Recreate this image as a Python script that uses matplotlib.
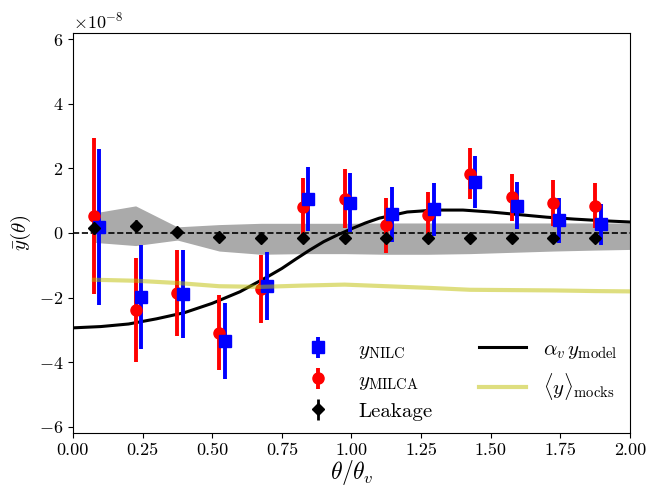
import numpy as np
import matplotlib
matplotlib.use("Agg")
import matplotlib.pyplot as plt

plt.rcParams['font.family'] = 'serif'
plt.rcParams['font.serif'] = ['cmr10']
plt.rcParams['mathtext.fontset'] = 'cm'
plt.rcParams['axes.formatter.use_mathtext'] = True
plt.rcParams['font.size'] = 13

# bin centres (theta / theta_v)
theta = [0.075, 0.225, 0.375, 0.525, 0.675, 0.825, 0.975, 1.125, 1.275, 1.425, 1.575, 1.725, 1.875]
nilc_offset = 0.02

# profiles in units of 1e-8
y_milca = [0.52, -2.39, -1.86, -3.09, -1.74, 0.81, 1.06, 0.24, 0.56, 1.84, 1.11, 0.93, 0.84]
err_milca = [2.42, 1.60, 1.32, 1.16, 1.05, 0.89, 0.91, 0.85, 0.70, 0.80, 0.73, 0.72, 0.70]
y_nilc = [0.19, -1.98, -1.88, -3.36, -1.64, 1.06, 0.94, 0.58, 0.74, 1.58, 0.84, 0.39, 0.27]
err_nilc = [2.42, 1.60, 1.36, 1.18, 1.06, 0.99, 0.92, 0.85, 0.82, 0.81, 0.73, 0.70, 0.63]
y_leak = [0.16, 0.23, 0.04, -0.13, -0.17, -0.16, -0.16, -0.16, -0.16, -0.16, -0.16, -0.16, -0.16]
err_leak = [0.18, 0.18, 0.16, 0.14, 0.14, 0.14, 0.14, 0.14, 0.14, 0.14, 0.14, 0.14, 0.14]

# leakage scatter band
band_x = [0.075, 0.225, 0.375, 0.525, 0.675, 0.825, 0.975, 1.125, 1.275, 1.425, 1.575, 1.725, 1.875, 2.0]
band_lo = [-0.29, -0.39, -0.22, -0.56, -0.66, -0.64, -0.64, -0.66, -0.66, -0.64, -0.60, -0.56, -0.53, -0.51]
band_hi = [0.62, 0.84, 0.19, 0.26, 0.30, 0.30, 0.30, 0.31, 0.31, 0.31, 0.31, 0.31, 0.31, 0.31]

# mean of mocks
mock_y = [-1.45, -1.48, -1.55, -1.65, -1.67, -1.63, -1.60, -1.65, -1.70, -1.76, -1.77, -1.78, -1.80, -1.81]

# model curve
model_x = [0.0, 0.1, 0.2, 0.3, 0.4, 0.5, 0.6, 0.7, 0.75, 0.8, 0.85, 0.9, 0.95, 1.0, 1.05, 1.1, 1.2, 1.3,
           1.4, 1.5, 1.6, 1.7, 1.8, 1.9, 2.0]
model_y = [-2.94, -2.90, -2.82, -2.66, -2.47, -2.18, -1.82, -1.35, -1.10, -0.81, -0.53, -0.27, -0.06, 0.13,
           0.31, 0.46, 0.65, 0.71, 0.71, 0.65, 0.57, 0.49, 0.43, 0.38, 0.34]

s = 1e-8
fig, ax = plt.subplots(figsize=(6.57, 4.91), dpi=100)
fig.subplots_adjust(left=0.111, right=0.959, top=0.933, bottom=0.118)

ax.fill_between(band_x, np.array(band_lo) * s, np.array(band_hi) * s, color='#aaaaaa', lw=0, zorder=1)
ax.axhline(0, color='k', ls='--', lw=1.2, zorder=2)
h_model, = ax.plot(model_x, np.array(model_y) * s, color='k', lw=2.2, zorder=2.5)

h_milca = ax.errorbar(theta, np.array(y_milca) * s, yerr=np.array(err_milca) * s, fmt='o', color='r',
                      ms=8, elinewidth=2.8, zorder=3)
h_nilc = ax.errorbar(np.array(theta) + nilc_offset, np.array(y_nilc) * s, yerr=np.array(err_nilc) * s, fmt='s',
                     color='b', ms=8, elinewidth=2.8, zorder=3)
h_leak = ax.errorbar(theta, np.array(y_leak) * s, yerr=np.array(err_leak) * s, fmt='D', color='k',
                     ms=6, elinewidth=2.0, zorder=3)
h_mock, = ax.plot(band_x, np.array(mock_y) * s, color='y', alpha=0.5, lw=3, zorder=4)

ax.set_xlim(0, 2.0)
ax.set_ylim(-6.2e-8, 6.2e-8)
ax.set_xticks([0.0, 0.25, 0.5, 0.75, 1.0, 1.25, 1.5, 1.75, 2.0])
ax.set_xticklabels(['0.00', '0.25', '0.50', '0.75', '1.00', '1.25', '1.50', '1.75', '2.00'])
ax.set_yticks(np.arange(-6, 7, 2) * s)
ax.set_xlabel(r'$\theta/\theta_v$', fontsize=17, labelpad=0)
ax.set_ylabel(r'$\bar{y}(\theta)$', fontsize=15)

ax.legend([h_nilc, h_milca, h_leak, h_model, h_mock],
          [r'$y_{\rm NILC}$', r'$y_{\rm MILCA}$', 'Leakage', r'$\alpha_v\,y_{\rm model}$', r'$\langle y \rangle_{\rm mocks}$'],
          ncol=2, loc='lower right', frameon=False, fontsize=15, columnspacing=2.25,
          handlelength=2.25, handletextpad=0.8, labelspacing=0.5, borderaxespad=0.2)

fig.savefig('out.png', dpi=100)
